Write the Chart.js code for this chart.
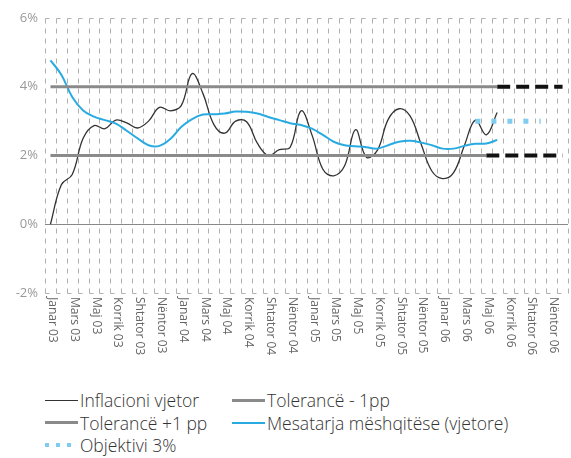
<!DOCTYPE html>
<html>
<head>
<meta charset="utf-8">
<script src="https://cdn.jsdelivr.net/npm/chart.js@4"></script>
<style>
  body { margin: 0; background: #fff; }
  .wrap { position: relative; width: 571px; height: 458px; }
  canvas { position: absolute; left: 0; top: 0; }
  .legend { position: absolute; left: 45px; top: 389px; font-family: "Open Sans", sans-serif;
            font-weight: 300; font-size: 17.5px; color: #333; line-height: 22px; }
  .item { position: absolute; white-space: nowrap; display: flex; align-items: center; }
  .sample { width: 33px; height: 0; margin-right: 2px; }
  .dots { width: 33px; height: 4px; margin-right: 2px;
          background: repeating-linear-gradient(90deg, #7fcdee 0 4px, transparent 4px 11px); }
</style>
</head>
<body>
<div class="wrap">
  <canvas id="inflationChart" width="571" height="378"></canvas>
  <div class="legend">
    <div class="item" style="left:0;top:0"><span class="sample" style="border-top:1px solid #333"></span>Inflacioni vjetor</div>
    <div class="item" style="left:187px;top:0"><span class="sample" style="border-top:3px solid #8a8a8a"></span>Tolerancë - 1pp</div>
    <div class="item" style="left:0;top:22.5px"><span class="sample" style="border-top:3px solid #8a8a8a"></span>Tolerancë +1 pp</div>
    <div class="item" style="left:187px;top:22.5px"><span class="sample" style="border-top:2px solid #29abe2"></span>Mesatarja mëshqitëse (vjetore)</div>
    <div class="item" style="left:0;top:45px"><span class="dots"></span>Objektivi 3%</div>
  </div>
</div>
<script>
// months Jan 03 - Dec 06
var months = ['Janar', 'Shkurt', 'Mars', 'Prill', 'Maj', 'Qershor', 'Korrik', 'Gusht', 'Shtator', 'Tetor', 'Nëntor', 'Dhjetor'];
var years = ['03', '04', '05', '06'];
var labels = [];
years.forEach(function (y) { months.forEach(function (m) { labels.push(m + ' ' + y); }); });

// annual inflation, Jan 03 - Jun 06
var inflation = [0.0, 1.15, 1.45, 2.5, 2.87, 2.78, 3.03, 2.95, 2.8, 3.0, 3.4, 3.3,
  3.45, 4.38, 3.8, 2.9, 2.65, 3.0, 2.98, 2.35, 2.0, 2.17, 2.24, 3.3,
  2.6, 1.6, 1.41, 1.7, 2.75, 1.95, 2.15, 3.05, 3.36, 3.15, 2.35, 1.55,
  1.33, 1.5, 2.3, 3.03, 2.6, 3.25];

// 12-month moving average
var movingAvg = [4.77, 4.35, 3.7, 3.31, 3.13, 3.03, 2.93, 2.72, 2.5, 2.3, 2.28, 2.48,
  2.83, 3.06, 3.19, 3.2, 3.22, 3.28, 3.27, 3.22, 3.12, 3.03, 2.94, 2.89,
  2.78, 2.6, 2.4, 2.3, 2.27, 2.24, 2.2, 2.3, 2.4, 2.43, 2.38, 2.3,
  2.2, 2.2, 2.28, 2.34, 2.35, 2.45];

var N = null;
var tolUpper = [4, 4, 4, 4, 4, 4, 4, 4, 4, 4, 4, 4, 4, 4, 4, 4, 4, 4, 4, 4, 4, 4, 4, 4,
  4, 4, 4, 4, 4, 4, 4, 4, 4, 4, 4, 4, 4, 4, 4, 4, 4, 4];
var tolUpperAhead = [N, N, N, N, N, N, N, N, N, N, N, N, N, N, N, N, N, N, N, N, N, N, N, N,
  N, N, N, N, N, N, N, N, N, N, N, N, N, N, N, N, N, 4, 4, 4, 4, 4, 4, 4];
var tolLower = [2, 2, 2, 2, 2, 2, 2, 2, 2, 2, 2, 2, 2, 2, 2, 2, 2, 2, 2, 2, 2, 2, 2, 2,
  2, 2, 2, 2, 2, 2, 2, 2, 2, 2, 2, 2, 2, 2, 2, 2, 2];
var tolLowerAhead = [N, N, N, N, N, N, N, N, N, N, N, N, N, N, N, N, N, N, N, N, N, N, N, N,
  N, N, N, N, N, N, N, N, N, N, N, N, N, N, N, N, 2, 2, 2, 2, 2, 2, 2, 2];
var target = [N, N, N, N, N, N, N, N, N, N, N, N, N, N, N, N, N, N, N, N, N, N, N, N,
  N, N, N, N, N, N, N, N, N, N, N, N, N, N, N, 3, 3, 3, 3, 3, 3, 3];

var yTicks = [-2, 0, 2, 4, 6];

// dashed month grid with small stubs at top and bottom (excel look)
var monthGrid = {
  id: 'monthGrid',
  beforeDatasetsDraw: function (chart) {
    var xs = chart.scales.x, ys = chart.scales.y, ctx = chart.ctx;
    var w = (xs.right - xs.left) / labels.length;
    var top = Math.round(ys.getPixelForValue(6)) + 0.5;
    var bottom = Math.round(ys.getPixelForValue(-2)) + 0.5;
    ctx.save();
    ctx.strokeStyle = '#b0b0b0';
    ctx.lineWidth = 1;
    for (var i = 0; i <= labels.length; i++) {
      var px = Math.round(xs.left + i * w) + 0.5;
      ctx.setLineDash([5, 5]);
      ctx.beginPath();
      ctx.moveTo(px, top);
      ctx.lineTo(px, bottom);
      ctx.stroke();
      if (i < labels.length) {
        ctx.setLineDash([]);
        ctx.beginPath();
        ctx.moveTo(px, top); ctx.lineTo(px + 4, top);
        ctx.moveTo(px, bottom); ctx.lineTo(px + 4, bottom);
        ctx.stroke();
      }
    }
    ctx.restore();
  }
};

// x labels drawn reading downwards, like the original
var downLabels = {
  id: 'downLabels',
  afterDraw: function (chart) {
    var scale = chart.scales.x;
    var ctx = chart.ctx;
    ctx.save();
    ctx.font = '12px "Open Sans", sans-serif';
    ctx.fillStyle = '#666';
    ctx.textAlign = 'left';
    ctx.textBaseline = 'middle';
    labels.forEach(function (lab, i) {
      if (i % 2 !== 0) return;
      var x = scale.getPixelForTick(i);
      ctx.save();
      ctx.translate(x + 2, scale.top + 4);
      ctx.rotate(Math.PI / 2);
      ctx.fillText(lab, 0, 0);
      ctx.restore();
    });
    ctx.restore();
  }
};

function line(data, color, width, extra) {
  var ds = { data: data, borderColor: color, borderWidth: width, pointRadius: 0, tension: 0, fill: false, spanGaps: false };
  return Object.assign(ds, extra || {});
}

var ctx = document.getElementById('inflationChart').getContext('2d');
new Chart(ctx, {
  type: 'line',
  data: {
    labels: labels,
    datasets: [
      line(tolUpper, '#8a8a8a', 3, { label: 'Tolerancë +1 pp' }),
      line(tolLower, '#8a8a8a', 3, { label: 'Tolerancë - 1pp' }),
      line(tolUpperAhead, '#111', 4, { label: 'Tolerancë +1 pp (parashikim)', borderDash: [13, 6] }),
      line(tolLowerAhead, '#111', 4, { label: 'Tolerancë - 1pp (parashikim)', borderDash: [13, 6] }),
      line(target, '#7fcdee', 5, { label: 'Objektivi 3%', borderDash: [5, 11] }),
      line(movingAvg, '#29abe2', 2, { label: 'Mesatarja mëshqitëse (vjetore)', tension: 0.4 }),
      line(inflation, '#333', 1.3, { label: 'Inflacioni vjetor', tension: 0.4 })
    ]
  },
  options: {
    responsive: false,
    animation: false,
    devicePixelRatio: 1,
    layout: { padding: { top: 18, right: 3 } },
    plugins: { legend: { display: false }, tooltip: { enabled: false } },
    scales: {
      x: {
        offset: true,
        grid: { display: false },
        border: { display: false },
        ticks: { display: false, autoSkip: false },
        afterFit: function (scale) { scale.height = 85; }
      },
      y: {
        min: -2,
        max: 6,
        afterBuildTicks: function (scale) { scale.ticks = yTicks.map(function (v) { return { value: v }; }); },
        grid: {
          drawTicks: false,
          color: function (c) { return c.tick && c.tick.value === 0 ? '#888' : 'rgba(0,0,0,0)'; }
        },
        border: { display: false },
        ticks: {
          padding: 7,
          color: '#999',
          font: { family: '"Open Sans", sans-serif', size: 13 },
          callback: function (v) { return v + '%'; }
        },
        afterFit: function (scale) { scale.width = 45; }
      }
    }
  },
  plugins: [monthGrid, downLabels]
});
</script>
</body>
</html>
